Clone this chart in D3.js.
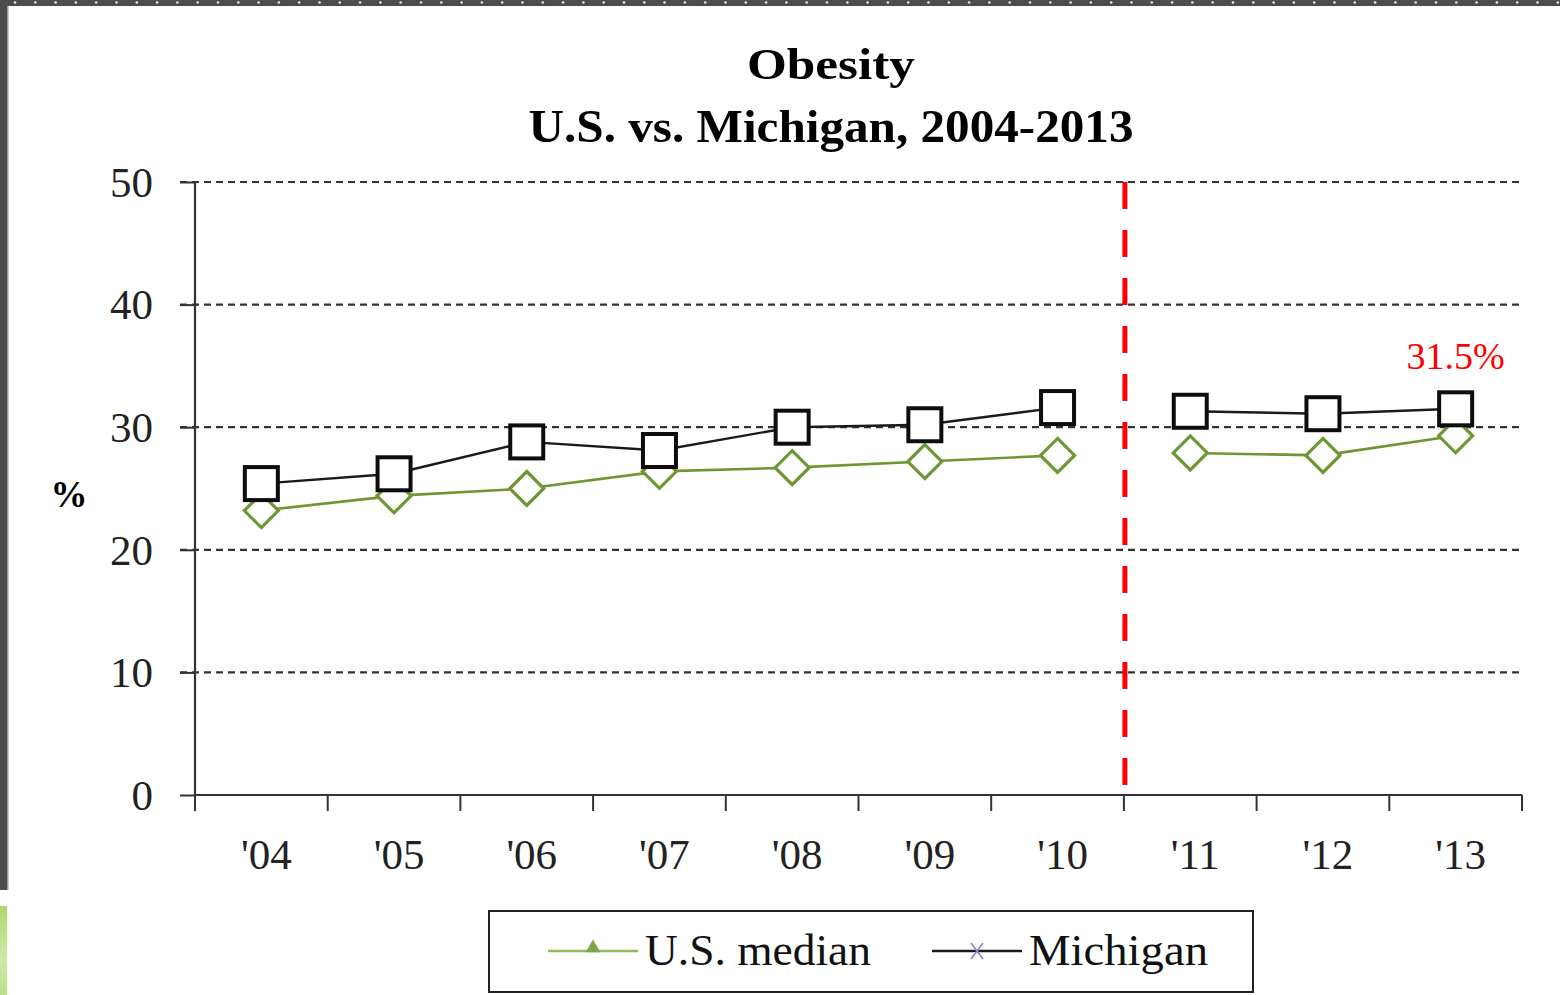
<!DOCTYPE html>
<html>
<head>
<meta charset="utf-8">
<script src="https://cdn.jsdelivr.net/npm/d3@7"></script>
<style>
  html, body { margin: 0; padding: 0; background: #fff; }
  svg { display: block; }
  text { font-family: "Liberation Serif", "DejaVu Serif", serif; }
</style>
</head>
<body>
<div id="chart"></div>
<script>
// Obesity, U.S. median vs Michigan (BRFSS-style line chart)

const years = ["'04", "'05", "'06", "'07", "'08", "'09", "'10", "'11", "'12", "'13"];
const usMedian = [23.2, 24.4, 25.0, 26.4, 26.7, 27.2, 27.7, 27.9, 27.7, 29.3];
const michigan = [25.4, 26.2, 28.8, 28.1, 30.0, 30.2, 31.6, 31.3, 31.1, 31.5];
const yTicks = [0, 10, 20, 30, 40, 50];
// series are broken at the methodology change (between '10 and '11)
const breakAfter = "'10";
const calloutText = "31.5%";

const width = 1560, height = 995;
const margin = {top: 182, right: 38, bottom: 200, left: 195};

const svg = d3.select("#chart")
    .append("svg")
    .attr("width", width)
    .attr("height", height);

// frame bits from the slide around the chart
svg.append("rect").attr("x", 0).attr("y", 0).attr("width", width).attr("height", 6).attr("fill", "#4d4d4d");
for (let i = 0; i < 78; i++) {
    svg.append("circle").attr("cx", 15 + i * 20.3).attr("cy", 2.5).attr("r", 1.3).attr("fill", "#e8e8e8");
}
svg.append("rect").attr("x", 0).attr("y", 0).attr("width", 7).attr("height", 890).attr("fill", "#4d4d4d");
svg.append("rect").attr("x", 7).attr("y", 6).attr("width", 1.5).attr("height", 884).attr("fill", "#9a9a9a");
let grad = svg.append("defs").append("linearGradient").attr("id", "greenStrip")
    .attr("x1", 0).attr("y1", 0).attr("x2", 0).attr("y2", 1);
grad.append("stop").attr("offset", "0%").attr("stop-color", "#a8dc6a");
grad.append("stop").attr("offset", "60%").attr("stop-color", "#cdeaa6");
grad.append("stop").attr("offset", "100%").attr("stop-color", "#b9e28a");
svg.append("rect").attr("x", 0).attr("y", 906).attr("width", 7).attr("height", 89).attr("fill", "url(#greenStrip)");

// scales
const x = d3.scaleBand()
    .domain(years)
    .range([margin.left, width - margin.right])
    .padding(0);
const y = d3.scaleLinear()
    .domain([0, 50])
    .range([height - margin.bottom, margin.top]);

const x0 = margin.left, x1 = width - margin.right;

// title (reference font is a wide Palatino-like face, so stretch a little)
svg.append("text")
    .attr("x", 831).attr("y", 79)
    .attr("text-anchor", "middle")
    .attr("textLength", 168).attr("lengthAdjust", "spacingAndGlyphs")
    .style("font-size", "45px").style("font-weight", "bold")
    .text("Obesity");
svg.append("text")
    .attr("x", 831).attr("y", 142)
    .attr("text-anchor", "middle")
    .attr("textLength", 605).attr("lengthAdjust", "spacingAndGlyphs")
    .style("font-size", "47px").style("font-weight", "bold")
    .text("U.S. vs. Michigan, 2004-2013");

// dashed gridlines
svg.append("g")
    .selectAll("line")
    .data(yTicks.filter(d => d > 0))
    .enter().append("line")
    .attr("x1", x0 - 15).attr("x2", x1)
    .attr("y1", d => y(d)).attr("y2", d => y(d))
    .attr("stroke", "#333")
    .attr("stroke-width", 2.2)
    .attr("stroke-dasharray", "7,5");

// y axis
let yAxis = svg.append("g")
    .attr("transform", "translate(" + x0 + ",0)")
    .call(d3.axisLeft(y).tickValues(yTicks).tickSize(15).tickPadding(27));
yAxis.select(".domain").attr("stroke", "#333").attr("stroke-width", 2.2).attr("d", "M0," + y(50) + "V" + y(0));
yAxis.selectAll(".tick line").attr("stroke", "#333").attr("stroke-width", 2);
yAxis.selectAll(".tick text")
    .style("font-size", "43px").style("font-family", "Liberation Serif, serif")
    .attr("fill", "#222").attr("dy", "0.33em");

// x axis, ticks on band boundaries
let xAxisG = svg.append("g");
xAxisG.append("line")
    .attr("x1", x0).attr("x2", x1)
    .attr("y1", y(0)).attr("y2", y(0))
    .attr("stroke", "#333").attr("stroke-width", 2.2);
let bounds = years.map(d => x(d)).concat([x1]);
xAxisG.selectAll(".xtick")
    .data(bounds)
    .enter().append("line")
    .attr("class", "xtick")
    .attr("x1", d => d).attr("x2", d => d)
    .attr("y1", y(0)).attr("y2", y(0) + 16)
    .attr("stroke", "#333").attr("stroke-width", 2);
xAxisG.selectAll(".xlabel")
    .data(years)
    .enter().append("text")
    .attr("class", "xlabel")
    .attr("x", d => x(d) + x.bandwidth() / 2 + 5)
    .attr("y", y(0) + 74)
    .attr("text-anchor", "middle")
    .attr("fill", "#222")
    .style("font-size", "43px")
    .text(d => d);

// y label
svg.append("text")
    .attr("x", 69).attr("y", 507)
    .attr("text-anchor", "middle")
    .style("font-size", "37px").style("font-weight", "bold")
    .text("%");

// red dashed divider
let divX = x(years[years.indexOf(breakAfter) + 1]);
svg.append("line")
    .attr("x1", divX + 1).attr("x2", divX + 1)
    .attr("y1", y(50)).attr("y2", y(0) - 6)
    .attr("stroke", "#ff0000")
    .attr("stroke-width", 5)
    .attr("stroke-dasharray", "27,21");

// lines, split into two segments at the break
let cx = d => x(d) + x.bandwidth() / 2;
let splitIdx = years.indexOf(breakAfter) + 1;
function segments(vals) {
    let pts = years.map((d, i) => [cx(d), y(vals[i])]);
    return [pts.slice(0, splitIdx), pts.slice(splitIdx)];
}
let lineGenerator = d3.line();

const usColor = "#6e9632";
segments(usMedian).forEach(seg => {
    svg.append("path")
        .attr("d", lineGenerator(seg))
        .attr("fill", "none")
        .attr("stroke", usColor)
        .attr("stroke-width", 2.6);
});
segments(michigan).forEach(seg => {
    svg.append("path")
        .attr("d", lineGenerator(seg))
        .attr("fill", "none")
        .attr("stroke", "#1a1a1a")
        .attr("stroke-width", 2.4);
});

// US diamonds
const dHalf = 17;
svg.selectAll(".usMark")
    .data(usMedian)
    .enter().append("path")
    .attr("class", "usMark")
    .attr("d", (d, i) => {
        let px = cx(years[i]), py = y(d);
        return "M" + px + "," + (py - dHalf) + "L" + (px + dHalf) + "," + py +
               "L" + px + "," + (py + dHalf) + "L" + (px - dHalf) + "," + py + "Z";
    })
    .attr("fill", "#fff")
    .attr("stroke", usColor)
    .attr("stroke-width", 3.2);

// Michigan squares
const sq = 33;
svg.selectAll(".miMark")
    .data(michigan)
    .enter().append("rect")
    .attr("class", "miMark")
    .attr("x", (d, i) => cx(years[i]) - sq / 2)
    .attr("y", d => y(d) - sq / 2)
    .attr("width", sq).attr("height", sq)
    .attr("fill", "#fff")
    .attr("stroke", "#0d0d0d")
    .attr("stroke-width", 4);

// callout for the last Michigan value
svg.append("text")
    .attr("x", cx(years[years.length - 1])).attr("y", y(michigan[michigan.length - 1]) - 40)
    .attr("text-anchor", "middle")
    .attr("fill", "#ff0000")
    .style("font-size", "38px")
    .text(calloutText);

// legend
let legend = svg.append("g");
legend.append("rect")
    .attr("x", 489).attr("y", 911)
    .attr("width", 764).attr("height", 81)
    .attr("fill", "#fff")
    .attr("stroke", "#222").attr("stroke-width", 2);

legend.append("line")
    .attr("x1", 548).attr("x2", 638).attr("y1", 951).attr("y2", 951)
    .attr("stroke", "#8cbb5a").attr("stroke-width", 2.5);
legend.append("path")
    .attr("d", d3.symbol().type(d3.symbolTriangle).size(95)())
    .attr("transform", "translate(593,948)")
    .attr("fill", "#7aa846");
legend.append("text")
    .attr("x", 645).attr("y", 965)
    .attr("textLength", 226).attr("lengthAdjust", "spacingAndGlyphs")
    .style("font-size", "45px")
    .attr("fill", "#111")
    .text("U.S. median");

legend.append("line")
    .attr("x1", 932).attr("x2", 1022).attr("y1", 951).attr("y2", 951)
    .attr("stroke", "#1a1a1a").attr("stroke-width", 2.5);
legend.append("path")
    .attr("d", "M-6,-8L6,8M-6,8L6,-8")
    .attr("transform", "translate(977,951)")
    .attr("fill", "none")
    .attr("stroke", "#9a7fd0").attr("stroke-width", 1.6);
legend.append("text")
    .attr("x", 1029).attr("y", 965)
    .attr("textLength", 179).attr("lengthAdjust", "spacingAndGlyphs")
    .style("font-size", "45px")
    .attr("fill", "#111")
    .text("Michigan");
</script>
</body>
</html>
